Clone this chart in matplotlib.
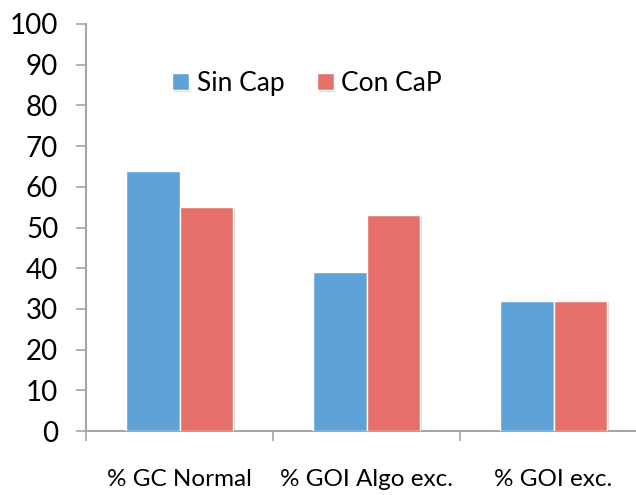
import matplotlib
matplotlib.use("Agg")
import matplotlib.pyplot as plt
import matplotlib.patheffects as pe
import numpy as np

categories = ["% GC Normal", "% GOI Algo exc.", "% GOI exc."]
series_names = ["Sin Cap", "Con CaP"]
sin_cap = [64, 39, 32]
con_cap = [55, 53, 32]
y_ticks = [0, 10, 20, 30, 40, 50, 60, 70, 80, 90, 100]

colors = ["#5FA2D7", "#E6716A"]
axis_gray = "#A6A6A6"

plt.rcParams["font.family"] = ["Lato", "DejaVu Sans"]

fig = plt.figure(figsize=(6.36, 4.95), dpi=100)
ax = fig.add_axes([86 / 636, 1 - 431 / 495, (647 - 86) / 636, (431 - 24) / 495])

x = np.arange(len(categories))
w = 0.286
shadow = [pe.SimplePatchShadow(offset=(1.2, -1.2), shadow_rgbFace="#808080", alpha=0.35), pe.Normal()]
ax.bar(x - w / 2, sin_cap, w, color=colors[0], edgecolor="white", linewidth=1.0,
       label=series_names[0], path_effects=shadow, zorder=3)
ax.bar(x + w / 2, con_cap, w, color=colors[1], edgecolor="white", linewidth=1.0,
       label=series_names[1], path_effects=shadow, zorder=3)

ax.set_xlim(-0.5, len(categories) - 0.5)
ax.set_ylim(0, 100)
ax.set_yticks(y_ticks)
ax.set_yticklabels([str(v) for v in y_ticks], fontsize=20)

# category boundaries carry the tick marks, centres carry the labels
ax.set_xticks(np.arange(len(categories) + 1) - 0.5)
ax.set_xticklabels([])
ax.set_xticks(x, minor=True)
ax.set_xticklabels(categories, minor=True, fontsize=17.5)
ax.tick_params(axis="x", which="major", length=7, width=1.2, color=axis_gray, direction="out")
ax.tick_params(axis="x", which="minor", length=0, pad=27)
ax.tick_params(axis="y", length=7, width=1.2, color=axis_gray, direction="out", pad=13)

for s in ["top", "right"]:
    ax.spines[s].set_visible(False)
for s in ["left", "bottom"]:
    ax.spines[s].set_color(axis_gray)
    ax.spines[s].set_linewidth(1.5)

ax.legend(loc="upper left", bbox_to_anchor=(0.135, 0.91), ncol=2, frameon=False,
          fontsize=19, handlelength=0.62, handleheight=0.62, handletextpad=0.3,
          columnspacing=1.25, borderaxespad=0)

fig.savefig("out.png", dpi=100, facecolor="white")
